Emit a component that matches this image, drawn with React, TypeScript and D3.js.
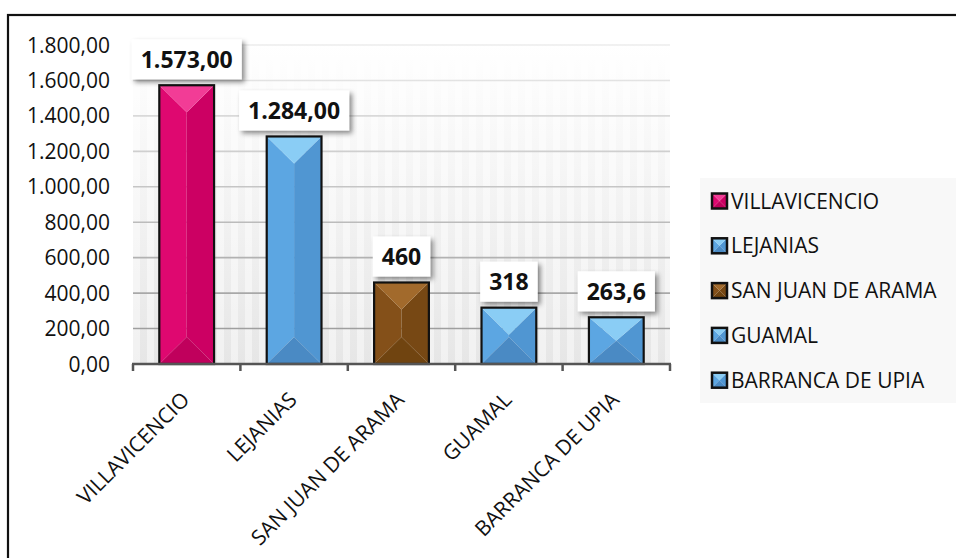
import React, { useEffect, useRef } from "react";
import * as d3 from "d3";

const categories = ["VILLAVICENCIO", "LEJANIAS", "SAN JUAN DE ARAMA", "GUAMAL", "BARRANCA DE UPIA"];
const values = [1573, 1284, 460, 318, 263.6];
const valueLabels = ["1.573,00", "1.284,00", "460", "318", "263,6"];
const colorKeys = ["pink", "blue", "brown", "blue", "blue"];
const yTicks = [0, 200, 400, 600, 800, 1000, 1200, 1400, 1600, 1800];

const palettes: Record<string, { left: string; right: string; top: string; bottom: string }> = {
  pink: { left: "#df0870", right: "#cc0063", top: "#f23c96", bottom: "#c0005c" },
  blue: { left: "#5ca6e2", right: "#5096d2", top: "#8acdf5", bottom: "#4a8ac4" },
  brown: { left: "#845019", right: "#774814", top: "#a26a2c", bottom: "#704410" },
};

const W = 956;
const H = 558;
const X0 = 133;
const X1 = 670;
const Y0 = 364;
const Y1 = 45;

function fmtTick(v: number): string {
  const s = d3.format(",.2f")(v);
  return s.replace(/,/g, "#").replace(/\./g, ",").replace(/#/g, ".");
}

function drawBevel(g: any, x: number, y: number, w: number, h: number, pal: any, stroke: number) {
  const b = Math.min(w / 2, h / 2, 27);
  const cx = x + w / 2;
  const tA: [number, number] = [cx, y + b];
  const bA: [number, number] = [cx, y + h - b];
  const line = (pts: [number, number][]) => "M" + pts.map((p) => p.join(",")).join("L") + "Z";
  g.append("path").attr("d", line([[x, y], tA, bA, [x, y + h]])).attr("fill", pal.left);
  g.append("path").attr("d", line([[x + w, y], tA, bA, [x + w, y + h]])).attr("fill", pal.right);
  g.append("path").attr("d", line([[x, y], [x + w, y], tA])).attr("fill", pal.top);
  g.append("path").attr("d", line([[x, y + h], [x + w, y + h], bA])).attr("fill", pal.bottom);
  g.append("rect").attr("x", x).attr("y", y).attr("width", w).attr("height", h)
    .attr("fill", "none").attr("stroke", "#111").attr("stroke-width", stroke);
}

export default function App() {
  const ref = useRef<SVGSVGElement | null>(null);

  useEffect(() => {
    const svg = d3.select(ref.current);
    svg.selectAll("*").remove();

    const defs = svg.append("defs");
    const bgGrad = defs.append("linearGradient").attr("id", "bgGrad")
      .attr("x1", 0).attr("y1", 0).attr("x2", 0).attr("y2", 1);
    bgGrad.append("stop").attr("offset", "0%").attr("stop-color", "#ffffff");
    bgGrad.append("stop").attr("offset", "100%").attr("stop-color", "#e6e6e6");

    const pat = defs.append("pattern").attr("id", "stripes").attr("patternUnits", "userSpaceOnUse")
      .attr("width", 14).attr("height", 10).attr("x", X0);
    pat.append("rect").attr("width", 7).attr("height", 10).attr("fill", "#ffffff").attr("opacity", 0.45);

    const gridGrad = defs.append("linearGradient").attr("id", "gridGrad")
      .attr("gradientUnits", "userSpaceOnUse").attr("x1", 0).attr("y1", Y1).attr("x2", 0).attr("y2", Y0);
    gridGrad.append("stop").attr("offset", "0%").attr("stop-color", "#ececec");
    gridGrad.append("stop").attr("offset", "100%").attr("stop-color", "#959595");

    const sh = defs.append("filter").attr("id", "shadow").attr("x", "-20%").attr("y", "-30%")
      .attr("width", "150%").attr("height", "170%");
    sh.append("feDropShadow").attr("dx", 3).attr("dy", 3).attr("stdDeviation", 2.5)
      .attr("flood-color", "#000").attr("flood-opacity", 0.45);

    svg.append("rect").attr("width", W).attr("height", H).attr("fill", "#fff");
    svg.append("rect").attr("x", 8).attr("y", 15).attr("width", W + 10).attr("height", H + 10)
      .attr("fill", "none").attr("stroke", "#111").attr("stroke-width", 2.2);

    const x = d3.scaleBand().domain(categories).range([X0, X1]).paddingInner(0.49).paddingOuter(0.245);
    const y = d3.scaleLinear().domain([0, 1800]).range([Y0, Y1]);

    // plot background
    svg.append("rect").attr("x", X0).attr("y", Y1).attr("width", X1 - X0).attr("height", Y0 - Y1).attr("fill", "url(#bgGrad)");
    svg.append("rect").attr("x", X0).attr("y", Y1).attr("width", X1 - X0).attr("height", Y0 - Y1).attr("fill", "url(#stripes)");

    // gridlines
    svg.append("g").selectAll("line").data(yTicks.filter((t) => t > 0)).join("line")
      .attr("x1", X0).attr("x2", X1).attr("y1", (d) => y(d)).attr("y2", (d) => y(d))
      .attr("stroke", "url(#gridGrad)").attr("stroke-width", 1.6);

    // y tick labels
    svg.append("g").selectAll("text").data(yTicks).join("text")
      .attr("x", 110).attr("y", (d) => y(d) + 7.5).attr("text-anchor", "end")
      .attr("font-family", "Open Sans").attr("font-size", 21).attr("fill", "#111")
      .text((d) => fmtTick(d));

    // bars
    categories.forEach((c, i) => {
      const bx = x(c)!;
      const by = y(values[i]);
      drawBevel(svg.append("g"), bx, by, x.bandwidth(), Y0 - by, palettes[colorKeys[i]], 2.2);
    });

    // x axis
    svg.append("line").attr("x1", X0 - 1).attr("x2", X1 + 1).attr("y1", Y0).attr("y2", Y0)
      .attr("stroke", "#555").attr("stroke-width", 2.5);
    const step = x.step();
    const tickXs = d3.range(categories.length + 1).map((k) => X0 + k * step);
    svg.append("g").selectAll("line").data(tickXs).join("line")
      .attr("x1", (d) => d).attr("x2", (d) => d).attr("y1", Y0).attr("y2", Y0 + 7)
      .attr("stroke", "#555").attr("stroke-width", 2.5);

    // x labels
    svg.append("g").selectAll("text").data(categories).join("text")
      .attr("transform", (d) => `translate(${x(d)! + x.bandwidth() / 2 + 4},401) rotate(-45)`)
      .attr("text-anchor", "end").attr("font-family", "Open Sans").attr("font-size", 21).attr("fill", "#111")
      .text((d) => d);

    // value labels
    categories.forEach((c, i) => {
      const cx = x(c)! + x.bandwidth() / 2;
      const top = y(values[i]);
      const g = svg.append("g");
      const rect = g.append("rect").attr("fill", "#fff").attr("filter", "url(#shadow)");
      const t = g.append("text").attr("x", cx).attr("y", top - 6 - 40 + 28.5).attr("text-anchor", "middle")
        .attr("font-family", "Open Sans").attr("font-weight", "bold").attr("font-size", 23).attr("fill", "#111")
        .text(valueLabels[i]);
      const tw = (t.node() as SVGTextElement).getComputedTextLength();
      const bw = tw + 18;
      rect.attr("x", cx - bw / 2).attr("y", top - 6 - 40).attr("width", bw).attr("height", 40);
    });

    // legend
    svg.append("rect").attr("x", 700).attr("y", 178).attr("width", 260).attr("height", 225).attr("fill", "#f8f8f8");
    categories.forEach((c, i) => {
      const cy = 201 + i * 44.8;
      drawBevel(svg.append("g"), 712, cy - 7.5, 15, 15, palettes[colorKeys[i]], 2.5);
      svg.append("text").attr("x", 731).attr("y", cy + 7.5).attr("font-family", "Open Sans")
        .attr("font-size", 21).attr("fill", "#111").text(c);
    });
  }, []);

  return (
    <div style={{ position: "absolute", left: 0, top: 0 }}>
      <svg ref={ref} width={W} height={H} style={{ display: "block" }} />
    </div>
  );
}
